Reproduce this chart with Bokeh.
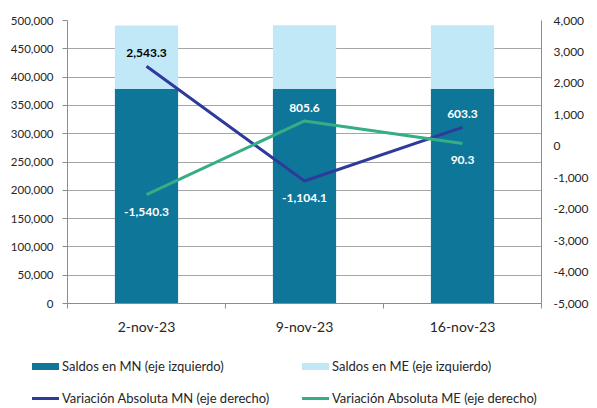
from bokeh.plotting import figure
from bokeh.layouts import column
from bokeh.models import (Range1d, LinearAxis, FixedTicker, Div,
                          ColumnDataSource, NumeralTickFormatter, LabelSet)
from bokeh.core.properties import value
from bokeh.embed import file_html
from bokeh.resources import INLINE

# ---- data ----
dates = ["2-nov-23", "9-nov-23", "16-nov-23"]
saldos_mn = [379000, 379200, 378900]
saldos_me = [112000, 112300, 112600]
var_mn = [2543.3, -1104.1, 603.3]
var_me = [-1540.3, 805.6, 90.3]
series_names = ["Saldos en MN (eje izquierdo)", "Saldos en ME (eje izquierdo)",
                "Variación Absoluta MN (eje derecho)", "Variación Absoluta ME (eje derecho)"]

FONT = "Lato"
C_MN_BAR = "#0E7699"
C_ME_BAR = "#C0E8F7"
C_MN_LINE = "#2F3B9B"
C_ME_LINE = "#35AE86"
GRID = "#A6A6A6"
AX = "#8C8C8C"
TXT = "#262626"

xs = [i + 0.5 for i in range(len(dates))]

p = figure(width=597, height=340, output_backend="svg", toolbar_location=None,
           x_range=Range1d(0, len(dates)), y_range=Range1d(0, 500000),
           min_border_left=67, min_border_right=56, min_border_top=20,
           min_border_bottom=37)
p.outline_line_color = None
p.background_fill_color = "white"
p.border_fill_color = "white"
p.extra_y_ranges = {"right": Range1d(-5000, 4000)}

src = ColumnDataSource(dict(x=xs, mn=saldos_mn, me=saldos_me,
                            vmn=var_mn, vme=var_me))

bars = p.vbar_stack(["mn", "me"], x="x", width=0.4, source=src,
                    color=[C_MN_BAR, C_ME_BAR], line_color=None)

l_mn = p.line("x", "vmn", source=src, y_range_name="right",
              line_color=C_MN_LINE, line_width=3)
l_me = p.line("x", "vme", source=src, y_range_name="right",
              line_color=C_ME_LINE, line_width=3)

# axes
xa = p.xaxis[0]
xa.ticker = FixedTicker(ticks=xs, minor_ticks=list(range(len(dates) + 1)))
xa.major_label_overrides = {x: d for x, d in zip(xs, dates)}
xa.major_tick_out = 0
xa.major_tick_in = 0
xa.minor_tick_out = 5
xa.minor_tick_in = 0
xa.minor_tick_line_color = AX
xa.axis_line_color = AX
xa.major_label_standoff = 9
xa.major_label_text_font = FONT
xa.major_label_text_font_size = "14px"
xa.major_label_text_color = TXT

ya = p.yaxis[0]
ya.ticker = FixedTicker(ticks=list(range(0, 500001, 50000)))
ya.formatter = NumeralTickFormatter(format="0,0")
ya.major_tick_out = 5
ya.major_tick_in = 0
ya.minor_tick_line_color = None
ya.major_tick_line_color = AX
ya.axis_line_color = AX
ya.major_label_standoff = 9
ya.major_label_text_font = FONT
ya.major_label_text_font_size = "11.5px"
ya.major_label_text_color = TXT

ra = LinearAxis(y_range_name="right", ticker=FixedTicker(ticks=list(range(-5000, 4001, 1000))),
                formatter=NumeralTickFormatter(format="0,0"))
ra.major_tick_out = 0
ra.major_tick_in = 0
ra.minor_tick_line_color = None
ra.axis_line_color = AX
ra.major_label_standoff = 12
ra.major_label_text_font = FONT
ra.major_label_text_font_size = "12px"
ra.major_label_text_color = TXT
p.add_layout(ra, "right")

p.xgrid.grid_line_color = None
p.ygrid.grid_line_color = GRID
p.ygrid.grid_line_width = 1

# data labels: higher series label above, lower series label below
lx, ly, lt, loff, lcol = [], [], [], [], []
for i, x in enumerate(xs):
    a, b = var_mn[i], var_me[i]
    for v, other in ((a, b), (b, a)):
        lx.append(x)
        ly.append(v)
        lt.append(f"{v:,.1f}")
        loff.append(13 if v >= other else -17)
        lcol.append("white")
lcol[0] = "black"
lab_src = ColumnDataSource(dict(x=lx, y=ly, t=lt, off=loff, c=lcol))
labels = LabelSet(x="x", y="y", text="t", y_range_name="right", source=lab_src,
                  y_offset="off", text_align="center", text_baseline="middle",
                  text_font=value(FONT), text_font_size="12px",
                  text_font_style="bold", text_color="c")
p.add_layout(labels)

# ---- legend strip (HTML) below the chart ----
swatches = [(C_MN_BAR, 7), (C_ME_BAR, 7), (C_MN_LINE, 3), (C_ME_LINE, 3)]
col_x = [32, 302]
row_y = [26, 58]
parts = []
for k, (name, (col, h)) in enumerate(zip(series_names, swatches)):
    cx = col_x[k % 2]
    cy = row_y[k // 2]
    parts.append(
        f'<div style="position:absolute;left:{cx}px;top:{cy - h / 2}px;'
        f'width:27px;height:{h}px;background:{col};"></div>'
        f'<div style="position:absolute;left:{cx + 30}px;top:{cy - 8}px;'
        f'line-height:16px;white-space:nowrap;">{name}</div>'
    )
html = ('<div style="position:relative;width:597px;height:68px;'
        f'font-family:{FONT};font-size:13px;color:{TXT};">' + "".join(parts) + "</div>")
leg = Div(text=html, width=597, height=68, margin=0)

open("out.html", "w").write(file_html(column(p, leg, spacing=0), INLINE))
